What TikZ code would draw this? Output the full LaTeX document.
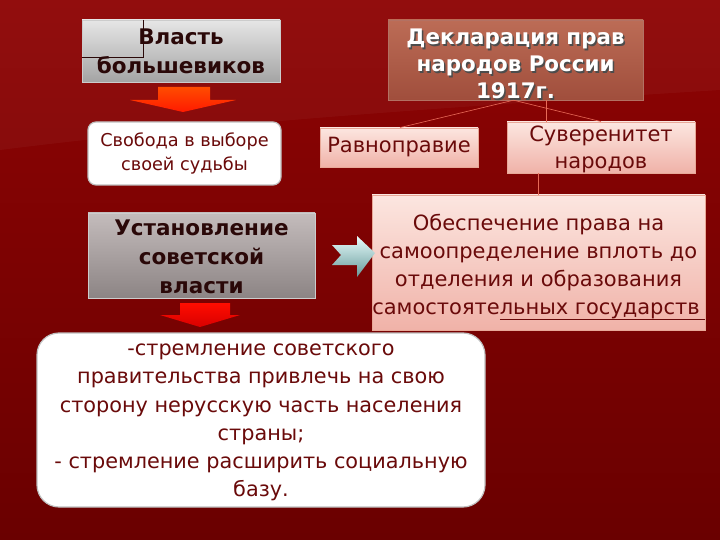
\documentclass[tikz,border=0pt]{standalone}
\usepackage{fontspec}
\setmainfont{DejaVu Sans}
\usetikzlibrary{shadows}
\definecolor{bgtop}{HTML}{8E0404}
\definecolor{bgbot}{HTML}{6A0000}
\definecolor{txtred}{HTML}{6A0A0A}
\definecolor{pinktop}{HTML}{FCE6E0}
\definecolor{pinkbot}{HTML}{F0B2A8}
\definecolor{pinkline}{HTML}{E8A898}
\definecolor{decltop}{HTML}{BC6C56}
\definecolor{declbot}{HTML}{A04E3C}
\definecolor{conncol}{HTML}{E86A58}
\definecolor{darktxt}{HTML}{2A0808}
\definecolor{g1top}{HTML}{E6E6E6}
\definecolor{g1bot}{HTML}{A4A4A4}
\definecolor{g2top}{HTML}{C4BCBC}
\definecolor{g2bot}{HTML}{8C8484}
\newcommand\myul[1]{\setbox0\hbox{#1}\rlap{\rule[-5pt]{\wd0}{0.8pt}}\box0}
\tikzset{
  graybox/.style 2 args={draw=gray!40, line width=0.8pt, top color=#1, bottom color=#2, text=darktxt, align=center,
     font=\fontsize{21.5}{29}\selectfont\bfseries, inner sep=0pt},
  pinkbox/.style={draw=pinkline, line width=0.8pt, top color=pinktop, bottom color=pinkbot, text=txtred, align=center,
     font=\fontsize{21}{28}\selectfont, inner sep=0pt},
  whitebox/.style={draw=gray!50, line width=1.2pt, fill=white, text=txtred, align=center, inner sep=0pt},
  conn/.style={draw=conncol, line width=0.6pt},
}
\begin{document}
\begin{tikzpicture}[x=1pt,y=-1pt]
\useasboundingbox (0,0) rectangle (720,540);
\shade[top color=bgtop, bottom color=bgbot] (0,0) rectangle (720,540);
\fill[white, opacity=0.04] (0,150) .. controls (200,125) and (400,110) .. (720,90) -- (720,0) -- (0,0) -- cycle;

% top-left box
\node[graybox={g1top}{g1bot}, minimum width=198pt, minimum height=62pt] (vlast) at (181,51) {Власть\\большевиков};
\draw[darktxt, line width=0.6pt] (143,20) -- (143,57) -- (82,57);

% orange arrow
\shade[top color=orange!60!red, bottom color=red!80!orange]
  (158,87) -- (210,87) -- (210,100) -- (236,100) -- (183,112) -- (130,100) -- (158,100) -- cycle;

\node[whitebox, rounded corners=8pt, minimum width=193pt, minimum height=63pt,
  font=\fontsize{17.7}{24}\selectfont] (svob) at (184.5,153.5) {Свобода в выборе\\своей судьбы};

% declaration
\node[draw=declbot!80, top color=decltop, bottom color=declbot, minimum width=255pt, minimum height=80pt,
  inner sep=0pt] (decl) at (515.5,60) {};
\node[text=black!70, align=center, font=\fontsize{21.4}{27}\selectfont\bfseries] (declshadow) at (517,65.5) {Декларация прав\\народов России\\1917г.};
\node[text=white, align=center, font=\fontsize{21.4}{27}\selectfont\bfseries] (decltext) at (515.5,64) {Декларация прав\\народов России\\1917г.};

\node[pinkbox, minimum width=158pt, minimum height=39pt] (rav) at (399,147.5) {Равноправие};
\node[pinkbox, minimum width=188pt, minimum height=51pt, font=\fontsize{21}{27}\selectfont] (suv) at (601,147.5) {};
\node[text=txtred, align=center, font=\fontsize{21}{27}\selectfont] (suvtext) at (601,149) {Суверенитет\\народов};

\draw[conn] ([xshift=-2pt]decl.south) -- ([xshift=1pt]rav.north);
\draw[conn] ([xshift=-2pt]decl.south) -- (suv.north);
\draw[conn] ([xshift=30.5pt]decl.south) -- ([xshift=30.5pt]decl.south |- suv.north);

\node[pinkbox, minimum width=333pt, minimum height=135pt] (obes) at (538.5,262.5) {};
\node[text=txtred, align=center, font=\fontsize{21}{28}\selectfont] (obestext) at (538.5,267)
  {Обеспечение права на\\самоопределение вплоть до\\отделения и образования\\самостояте\myul{льных государств\hspace{5pt}}};
\draw[conn] (obes.north) -- (obes.north |- suv.south);

% gray arrow
\shade[top color=gray!20!cyan!10!white, bottom color=gray!50!cyan!40!gray]
  (332,245) -- (357,245) -- (357,236) -- (375,253) -- (357,277) -- (357,265) -- (332,265) -- (341,255) -- cycle;

\node[graybox={g2top}{g2bot}, minimum width=227pt, minimum height=85pt] (ust) at (201.5,255.5) {};
\node[text=darktxt, align=center, font=\fontsize{21.5}{29}\selectfont\bfseries] (usttext) at (201.5,257) {Установление\\советской\\власти};

% red arrow
\shade[top color=red!90!orange, bottom color=red!85!black]
  (180,303) -- (230,303) -- (230,315) -- (240,315) -- (200,327) -- (160,315) -- (180,315) -- cycle;

\node[whitebox, rounded corners=22pt, minimum width=448pt, minimum height=174pt] (strem) at (261,420) {};
\node[text=txtred, align=center, font=\fontsize{20.8}{28.2}\selectfont] (stremtext) at (261,422.5)
  {-стремление советского\\правительства привлечь на свою\\сторону нерусскую часть населения\\страны;\\- стремление расширить социальную\\базу.};
\end{tikzpicture}
\end{document}
